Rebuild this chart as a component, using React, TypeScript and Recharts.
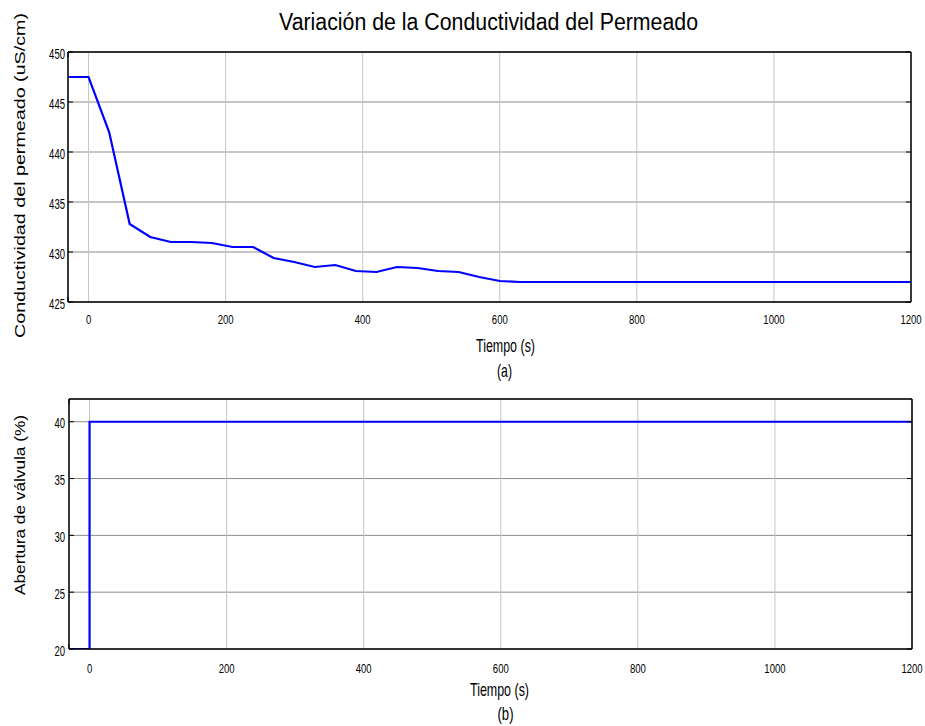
import React from 'react';
import { LineChart, Line, XAxis, YAxis, CartesianGrid } from 'recharts';

// Shared time axis (seconds)
const timeDomain: [number, number] = [-30, 1200];
const timeTicks = [0, 200, 400, 600, 800, 1000, 1200];

// Panel (a): permeate conductivity, uS/cm
const conductivityTime = [
  -30, 0, 30, 60, 90, 120, 150, 180, 210, 240, 270, 300, 330, 360, 390, 420,
  450, 480, 510, 540, 570, 600, 630, 1200,
];
const conductivityValues = [
  447.5, 447.5, 442.0, 432.8, 431.5, 431.0, 431.0, 430.9, 430.5, 430.5, 429.4,
  429.0, 428.5, 428.7, 428.1, 428.0, 428.5, 428.4, 428.1, 428.0, 427.5, 427.1,
  427.0, 427.0,
];
const conductivityDomain: [number, number] = [425, 450];
const conductivityTicks = [425, 430, 435, 440, 445, 450];

// Panel (b): valve opening, %
const valveTime = [-30, 0, 0, 1200];
const valveValues = [20, 20, 40, 40];
const valveDomain: [number, number] = [20, 42];
const valveTicks = [20, 25, 30, 35, 40];

const conductivityData = conductivityTime.map((t, i) => ({ t, v: conductivityValues[i] }));
const valveData = valveTime.map((t, i) => ({ t, v: valveValues[i] }));

const FONT = '"Liberation Sans", Arial, Helvetica, sans-serif';
// digits are 0.556em wide in this face; tick numbers are drawn condensed
const DIGIT_EM = 0.556;
const CHAR_W = 5.3;
const BOX = { stroke: '#000', strokeWidth: 1.5 };
const TICK_LINE = { stroke: '#000', strokeWidth: 1 };
const noLabel = () => <g />;

function NarrowNumber(props: {
  x: number;
  y: number;
  size: number;
  anchor: 'middle' | 'end';
  text: string;
}) {
  const { x, y, size, anchor, text } = props;
  const sx = CHAR_W / (DIGIT_EM * size);
  return (
    <text
      transform={`translate(${x},${y}) scale(${sx},1)`}
      textAnchor={anchor}
      fontSize={size}
      fontFamily={FONT}
      fill="#000"
    >
      {text}
    </text>
  );
}

function XTick(props: any) {
  const { x, y, payload, shift } = props;
  return (
    <NarrowNumber x={x} y={y + shift} size={13.5} anchor="middle" text={String(payload.value)} />
  );
}

function YTick(props: any) {
  const { x, y, payload, gap } = props;
  return (
    <NarrowNumber x={x - gap} y={y + 6.5} size={15} anchor="end" text={String(payload.value)} />
  );
}

type PanelProps = {
  data: { t: number; v: number }[];
  height: number;
  margin: { top: number; right: number; bottom: number; left: number };
  yAxisWidth: number;
  xAxisHeight: number;
  yDomain: [number, number];
  yTicks: number[];
  xLabelShift: number;
  yLabelGap: number;
};

function Panel({
  data,
  height,
  margin,
  yAxisWidth,
  xAxisHeight,
  yDomain,
  yTicks,
  xLabelShift,
  yLabelGap,
}: PanelProps) {
  return (
    <LineChart width={925} height={height} data={data} margin={margin}>
      <CartesianGrid vertical={false} stroke="#8c8c8c" strokeWidth={1} />
      <CartesianGrid horizontal={false} stroke="#c4c4c4" strokeWidth={1} />
      <XAxis
        dataKey="t"
        type="number"
        domain={timeDomain}
        ticks={timeTicks}
        interval={0}
        allowDataOverflow
        height={xAxisHeight}
        tickSize={0}
        tickMargin={0}
        tickLine={false}
        axisLine={BOX}
        tick={(p: any) => <XTick {...p} shift={xLabelShift} />}
      />
      {/* inward tick marks along the top and bottom edges of the box */}
      <XAxis
        xAxisId="top"
        orientation="top"
        mirror
        type="number"
        domain={timeDomain}
        ticks={timeTicks}
        interval={0}
        allowDataOverflow
        height={1}
        tickSize={5}
        tickLine={TICK_LINE}
        axisLine={BOX}
        tick={noLabel}
      />
      <XAxis
        xAxisId="inner"
        orientation="bottom"
        mirror
        type="number"
        domain={timeDomain}
        ticks={timeTicks}
        interval={0}
        allowDataOverflow
        height={1}
        tickSize={5}
        tickLine={TICK_LINE}
        axisLine={false}
        tick={noLabel}
      />
      <YAxis
        type="number"
        domain={yDomain}
        ticks={yTicks}
        interval={0}
        allowDataOverflow
        width={yAxisWidth}
        tickSize={0}
        tickMargin={0}
        tickLine={false}
        axisLine={BOX}
        tick={(p: any) => <YTick {...p} gap={yLabelGap} />}
      />
      {/* inward tick marks along the right and left edges of the box */}
      <YAxis
        yAxisId="right"
        orientation="right"
        mirror
        type="number"
        domain={yDomain}
        ticks={yTicks}
        interval={0}
        allowDataOverflow
        width={1}
        tickSize={5}
        tickLine={TICK_LINE}
        axisLine={BOX}
        tick={noLabel}
      />
      <YAxis
        yAxisId="inner"
        orientation="left"
        mirror
        type="number"
        domain={yDomain}
        ticks={yTicks}
        interval={0}
        allowDataOverflow
        width={1}
        tickSize={5}
        tickLine={TICK_LINE}
        axisLine={false}
        tick={noLabel}
      />
      <Line
        type="linear"
        dataKey="v"
        stroke="#0000ff"
        strokeWidth={2.2}
        dot={false}
        activeDot={false}
        isAnimationActive={false}
      />
    </LineChart>
  );
}

function Caption(props: {
  x: number;
  y: number;
  size: number;
  length: number;
  rotate?: boolean;
  children: string;
}) {
  const { x, y, size, length, rotate, children } = props;
  return (
    <text
      x={rotate ? 0 : x}
      y={rotate ? 0 : y}
      transform={rotate ? `translate(${x},${y}) rotate(-90)` : undefined}
      textAnchor="middle"
      fontSize={size}
      fontFamily={FONT}
      fill="#000"
      textLength={length}
      lengthAdjust="spacingAndGlyphs"
    >
      {children}
    </text>
  );
}

export default function App() {
  return (
    <div
      style={{
        position: 'absolute',
        left: 0,
        top: 0,
        width: 925,
        height: 726,
        background: '#fff',
        overflow: 'hidden',
      }}
    >
      <div style={{ position: 'absolute', left: 0, top: 0 }}>
        <Panel
          data={conductivityData}
          height={360}
          margin={{ top: 52, right: 14, bottom: 0, left: 0 }}
          yAxisWidth={68}
          xAxisHeight={58}
          yDomain={conductivityDomain}
          yTicks={conductivityTicks}
          xLabelShift={21.5}
          yLabelGap={3}
        />
      </div>
      <div style={{ position: 'absolute', left: 0, top: 360 }}>
        <Panel
          data={valveData}
          height={366}
          margin={{ top: 39, right: 13, bottom: 0, left: 0 }}
          yAxisWidth={69}
          xAxisHeight={77}
          yDomain={valveDomain}
          yTicks={valveTicks}
          xLabelShift={24}
          yLabelGap={4}
        />
      </div>
      <svg
        width={925}
        height={726}
        style={{ position: 'absolute', left: 0, top: 0, pointerEvents: 'none' }}
      >
        <Caption x={488.5} y={30} size={23.5} length={419}>
          Variación de la Conductividad del Permeado
        </Caption>
        <Caption x={25} y={175.5} size={14} length={325} rotate>
          Conductividad del permeado (uS/cm)
        </Caption>
        <Caption x={505.5} y={352} size={19} length={59}>
          Tiempo (s)
        </Caption>
        <Caption x={504.5} y={377} size={19} length={15}>
          (a)
        </Caption>
        <Caption x={25} y={505} size={14.5} length={180} rotate>
          Abertura de válvula (%)
        </Caption>
        <Caption x={499.5} y={696} size={19} length={59}>
          Tiempo (s)
        </Caption>
        <Caption x={505.5} y={720} size={19} length={16}>
          (b)
        </Caption>
      </svg>
    </div>
  );
}
